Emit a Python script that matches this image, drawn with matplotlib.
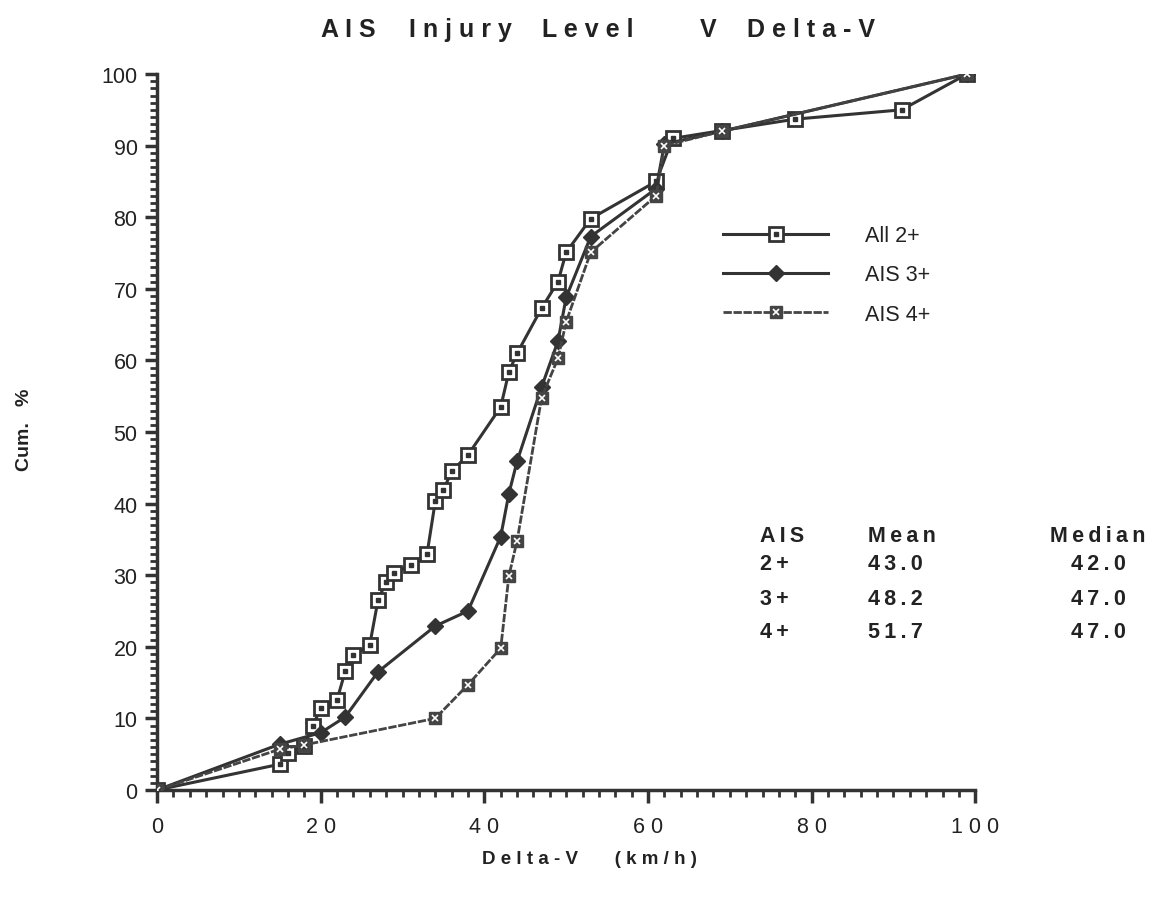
import numpy as np
from matplotlib import pyplot as plt
from matplotlib.legend_handler import HandlerTuple

# cumulative % vs delta-v (km/h)
all2_x = [0, 15, 16, 18, 19, 20, 22, 23, 24, 26, 27, 28, 29, 31, 33, 34, 35, 36, 38,
          42, 43, 44, 47, 49, 50, 53, 61, 63, 69, 78, 91, 99]
all2_y = [0, 3.6, 5.2, 6.2, 8.9, 11.4, 12.6, 16.6, 18.8, 20.3, 26.5, 29.1, 30.3, 31.4,
          33.0, 40.3, 41.9, 44.5, 46.8, 53.5, 58.4, 61.0, 67.3, 71.0, 75.1, 79.8, 85.0,
          91.0, 92.1, 93.7, 95.0, 100]

ais3_x = [0, 15, 20, 23, 27, 34, 38, 42, 43, 44, 47, 49, 50, 53, 61, 62, 69, 99]
ais3_y = [0, 6.4, 8.0, 10.2, 16.5, 22.9, 25.0, 35.4, 41.4, 45.9, 56.3, 62.7, 68.8,
          77.3, 84.0, 90.2, 92.0, 100]

ais4_x = [0, 15, 18, 34, 38, 42, 43, 44, 47, 49, 50, 53, 61, 62, 69, 99]
ais4_y = [0, 5.7, 6.3, 10.0, 14.7, 19.8, 29.9, 34.8, 54.8, 60.3, 65.4, 75.1, 83.0,
          90.0, 92.0, 100]

labels = ['All 2+', 'AIS 3+', 'AIS 4+']
title_words = ['AIS', 'Injury', 'Level', 'V', 'Delta-V']
table_rows = [['AIS', 'Mean', 'Median'],
              ['2+', '43.0', '42.0'],
              ['3+', '48.2', '47.0'],
              ['4+', '51.7', '47.0']]

plt.rcParams['font.family'] = ['Liberation Sans', 'DejaVu Sans']
dark = '#333333'
ink = '#222222'


def spaced(s, sep=' '):
    # the old chart uses wide letter spacing
    return sep.join(s)


fig = plt.figure(figsize=(11.59, 9.04), dpi=100)
ax = fig.add_axes([0.1355, 0.125, 0.706, 0.792])

l2, = ax.plot(all2_x, all2_y, color=dark, linewidth=2.2, marker='s', markersize=10,
              markerfacecolor='white', markeredgecolor=dark, markeredgewidth=2, zorder=3)
d2, = ax.plot(all2_x, all2_y, linestyle='none', marker='s', markersize=2.5,
              color=dark, zorder=4)
l3, = ax.plot(ais3_x, ais3_y, color=dark, linewidth=2.2, marker='D', markersize=8,
              markerfacecolor=dark, markeredgecolor=dark, zorder=3)
l4, = ax.plot(ais4_x, ais4_y, color='#444444', linewidth=2, linestyle=(0, (3, 0.6)),
              marker='s', markersize=9, markerfacecolor='#444444',
              markeredgecolor='#444444', zorder=3)
x4, = ax.plot(ais4_x, ais4_y, linestyle='none', marker='x', markersize=5,
              markeredgewidth=1.2, color='white', zorder=4)

ax.set_xlim(0, 100)
ax.set_ylim(0, 100)
ax.spines['top'].set_visible(False)
ax.spines['right'].set_visible(False)
for side in ['left', 'bottom']:
    ax.spines[side].set_linewidth(2.5)
    ax.spines[side].set_color(dark)

ax.set_xticks(np.arange(0, 101, 20))
ax.set_xticks(np.arange(0, 101, 2), minor=True)
ax.set_yticks(np.arange(0, 101, 10))
ax.set_yticks(np.arange(0, 101, 1), minor=True)
ax.set_xticklabels([spaced(str(v)) for v in range(0, 101, 20)])
ax.tick_params(which='major', direction='out', length=9, width=2.5, color=dark,
               labelsize=15.5, labelcolor=ink, pad=10)
ax.tick_params(which='minor', direction='out', length=5, width=2, color=dark)
ax.tick_params(axis='y', which='major', pad=5)

ax.set_xlabel(spaced('Delta-V') + '       ' + spaced('(km/h)'), fontsize=13.5,
              fontweight='bold', color=ink)
ax.xaxis.set_label_coords(0.529, -0.084)
ax.set_ylabel('Cum.   %', fontsize=14, fontweight='bold', color=ink)
ax.yaxis.set_label_coords(-0.152, 0.505)

# title words placed one by one, as spread out as in the original
title_cx = [348, 460, 588, 708, 811]
for word, cx in zip(title_words, title_cx):
    fig.text(cx / 1159, 1 - 30 / 904, spaced(word), ha='center', va='center',
             fontsize=18, fontweight='bold', color=ink)

ax.legend([(l2, d2), l3, (l4, x4)], labels,
          handler_map={tuple: HandlerTuple(ndivide=1, pad=0)},
          loc='upper left', bbox_to_anchor=(0.668, 0.816), frameon=False,
          fontsize=15.5, handlelength=4.9, handletextpad=1.7, labelspacing=0.85,
          labelcolor=ink)

# stats table on the right
col_x = [0.737, 0.869, 1.15]
row_y = [0.355, 0.317, 0.267, 0.222]
for r, row in enumerate(table_rows):
    for c, txt in enumerate(row):
        ax.text(col_x[c], row_y[r], spaced(txt, '\u2009'), transform=ax.transAxes,
                fontsize=15.5, fontweight='bold', color=ink, va='center',
                ha='left' if c < 2 else 'center')

fig.savefig('out.png', dpi=100)
